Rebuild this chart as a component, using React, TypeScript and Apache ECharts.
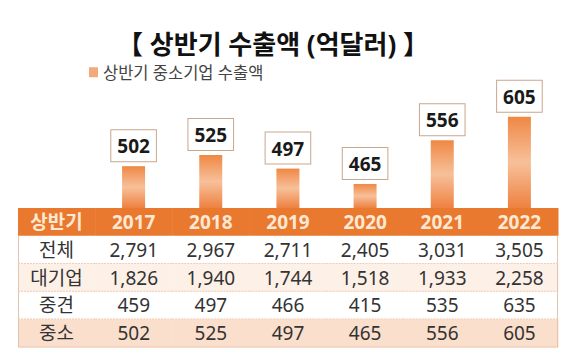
import React, { useEffect, useRef } from "react";
import * as echarts from "echarts";

const titleText = "【 상반기 수출액 (억달러) 】";
const seriesName = "상반기 중소기업 수출액";
const years = ["2017", "2018", "2019", "2020", "2021", "2022"];
const smeExports = [502, 525, 497, 465, 556, 605];
const headerLabel = "상반기";
const rowLabels = ["전체", "대기업", "중견", "중소"];
const totalRow = [2791, 2967, 2711, 2405, 3031, 3505];
const largeRow = [1826, 1940, 1744, 1518, 1933, 2258];
const midRow = [459, 497, 466, 415, 535, 635];
const smallRow = [502, 525, 497, 465, 556, 605];

const FAMILY = "Noto Sans, Noto Sans CJK KR, sans-serif";

const tableRows = [totalRow, largeRow, midRow, smallRow];
const tableCols = [headerLabel, ...years];
const rowKeys = ["header", ...rowLabels];

type Cell = { col: number; row: number; text: string };
const cells: Cell[] = [];
tableCols.forEach((t, c) => cells.push({ col: c, row: 0, text: t }));
rowLabels.forEach((lab, r) => {
  cells.push({ col: 0, row: r + 1, text: lab });
  tableRows[r].forEach((v, c) =>
    cells.push({ col: c + 1, row: r + 1, text: v.toLocaleString("en-US") })
  );
});

const rowFill = ["#E9792F", "#FFFFFF", "#FDF0E7", "#FFFFFF", "#FBDFCD"];

export default function App() {
  const ref = useRef<HTMLDivElement>(null);
  useEffect(() => {
    if (!ref.current) return;
    const chart = echarts.init(ref.current, undefined, { renderer: "svg" });
    const option: any = {
      animation: false,
      backgroundColor: "#FFFFFF",
      textStyle: { fontFamily: FAMILY },
      title: {
        text: titleText,
        left: 268,
        top: 26,
        textAlign: "center",
        textStyle: {
          fontFamily: FAMILY,
          fontSize: 26,
          fontWeight: "bold",
          color: "#111",
        },
      },
      legend: {
        left: 84,
        top: 59,
        icon: "rect",
        itemWidth: 9,
        itemHeight: 10,
        itemGap: 4,
        textStyle: { fontSize: 16.5, color: "#444", fontFamily: FAMILY },
        data: [{ name: seriesName, itemStyle: { color: "#F2A97C" } }],
      },
      grid: [
        { left: 95, right: 10, top: 71, bottom: 153 },
        { left: 18, right: 10, top: 208, bottom: 14 },
      ],
      xAxis: [
        { type: "category", gridIndex: 0, data: years, show: false },
        { type: "category", gridIndex: 1, data: tableCols, show: false },
      ],
      yAxis: [
        { type: "value", gridIndex: 0, min: 415, max: 700, show: false },
        {
          type: "category",
          gridIndex: 1,
          data: rowKeys,
          inverse: true,
          show: false,
        },
      ],
      series: [
        {
          name: seriesName,
          type: "bar",
          xAxisIndex: 0,
          yAxisIndex: 0,
          data: smeExports,
          barWidth: 23,
          z: 1,
          itemStyle: {
            color: new echarts.graphic.LinearGradient(0, 0, 0, 1, [
              { offset: 0, color: "#EF8844" },
              { offset: 0.5, color: "#F7C09A" },
              { offset: 1, color: "#EE8140" },
            ]),
          },
          label: {
            show: true,
            position: "top",
            distance: 5,
            formatter: "{c}",
            fontFamily: FAMILY,
            fontSize: 19,
            fontWeight: "bold",
            color: "#1A1A1A",
            backgroundColor: "#FFFFFF",
            borderColor: "#C9A68C",
            borderWidth: 1,
            padding: [4, 6, 3, 6],
            lineHeight: 24,
          },
        },
        {
          type: "custom",
          xAxisIndex: 1,
          yAxisIndex: 1,
          z: 3,
          silent: true,
          data: cells.map((c) => [c.col, c.row]),
          renderItem: (params: any, api: any) => {
            const cell = cells[params.dataIndex];
            const center = api.coord([api.value(0), api.value(1)]);
            const size = api.size([1, 1]);
            const x = center[0] - size[0] / 2;
            const y = center[1] - size[1] / 2;
            const w = size[0];
            const h = size[1];
            const isHeader = cell.row === 0;
            const children: any[] = [
              {
                type: "rect",
                shape: { x, y, width: w + 0.5, height: h + 0.5 },
                style: { fill: rowFill[cell.row] },
              },
            ];
            if (!isHeader) {
              children.push({
                type: "line",
                shape: { x1: x, y1: y + h, x2: x + w, y2: y + h },
                style: {
                  stroke: cell.row === 4 ? "#E8C8B2" : "#DDA27C",
                  lineWidth: 1,
                  lineDash: cell.row === 4 ? null : [2, 1],
                },
              });
              if (cell.col === 0) {
                children.push({
                  type: "line",
                  shape: { x1: x + 0.5, y1: y, x2: x + 0.5, y2: y + h },
                  style: { stroke: "#E6C3AC", lineWidth: 1 },
                });
              }
              if (cell.col === tableCols.length - 1) {
                children.push({
                  type: "line",
                  shape: { x1: x + w - 0.5, y1: y, x2: x + w - 0.5, y2: y + h },
                  style: { stroke: "#E6C3AC", lineWidth: 1 },
                });
              }
            }
            return { type: "group", children };
          },
        },
        {
          type: "scatter",
          xAxisIndex: 1,
          yAxisIndex: 1,
          z: 5,
          silent: true,
          symbolSize: 1,
          itemStyle: { color: "rgba(0,0,0,0)" },
          data: cells.map((c) => ({
            value: [c.col, c.row],
            name: c.text,
            label:
              c.row === 0
                ? { fontWeight: "bold", color: "#FDE8D4" }
                : { fontWeight: "normal", color: "#333333" },
          })),
          label: {
            show: true,
            position: "inside",
            formatter: "{b}",
            fontFamily: FAMILY,
            fontSize: 19,
            opacity: 1,
            offset: [0, 1],
          },
          labelLayout: { hideOverlap: false },
        },
      ],
    };
    chart.setOption(option);
    return () => chart.dispose();
  }, []);
  return (
    <div
      ref={ref}
      style={{
        position: "fixed",
        left: 0,
        top: 0,
        width: 568,
        height: 361,
      }}
    />
  );
}
